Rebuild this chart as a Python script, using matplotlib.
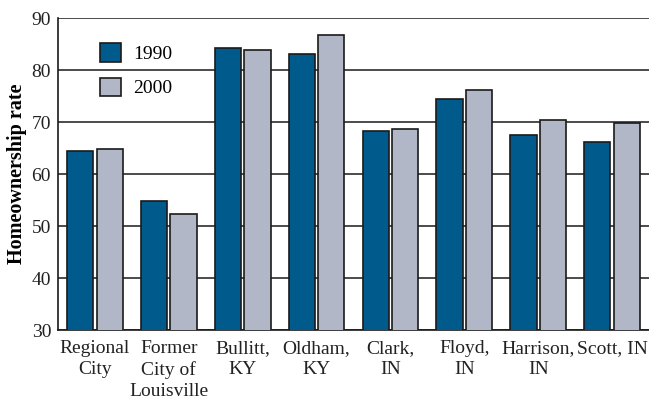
import matplotlib
matplotlib.use("Agg")
import matplotlib.pyplot as plt
import numpy as np

categories = ["Regional\nCity", "Former\nCity of\nLouisville", "Bullitt,\nKY", "Oldham,\nKY",
              "Clark,\nIN", "Floyd,\nIN", "Harrison,\nIN", "Scott, IN"]
rate_1990 = [64.5, 54.8, 84.2, 83.0, 68.2, 74.5, 67.6, 66.1]
rate_2000 = [64.8, 52.4, 83.8, 86.8, 68.6, 76.2, 70.4, 69.8]
series_labels = ["1990", "2000"]
yticks = [30, 40, 50, 60, 70, 80, 90]

plt.rcParams["font.family"] = ["Liberation Serif", "DejaVu Serif"]

fig = plt.figure(figsize=(6.49, 4.04), dpi=100)
ax = fig.add_axes([0.0894, 0.183, 0.9106, 0.7724])

x = np.arange(len(categories))
w = 0.355
off = 0.2
c1990 = "#005a8c"
c2000 = "#b1b7c6"
edge = "#1a1a1a"

ax.bar(x - off, rate_1990, w, color=c1990, edgecolor=edge, linewidth=1.2,
       label=series_labels[0], zorder=3)
ax.bar(x + off, rate_2000, w, color=c2000, edgecolor=edge, linewidth=1.2,
       label=series_labels[1], zorder=3)

ax.set_xlim(-0.5, len(categories) - 0.5)
ax.set_ylim(30, 90)
ax.set_yticks(yticks)
ax.yaxis.grid(True, color="#1a1a1a", linewidth=1.1, zorder=0)
ax.set_axisbelow(True)

ax.set_xticks(x)
ax.set_xticklabels(categories, fontsize=14, color="#222222", linespacing=1.3)
ax.tick_params(axis="x", length=0, pad=7)
ax.tick_params(axis="y", length=0, pad=5, labelsize=14, labelcolor="#222222")

for s in ["top", "right"]:
    ax.spines[s].set_visible(False)
for s in ["left", "bottom"]:
    ax.spines[s].set_color("#1a1a1a")
    ax.spines[s].set_linewidth(1.2)

ax.set_ylabel("Homeownership rate", fontsize=14.5, fontweight="bold", labelpad=3)

leg = ax.legend(loc="upper left", bbox_to_anchor=(0.071, 0.92), frameon=False,
                fontsize=14, handlelength=1.1, handleheight=1.1,
                labelspacing=0.75, handletextpad=0.6, borderpad=0,
                borderaxespad=0)

fig.savefig("out.png", dpi=100)
